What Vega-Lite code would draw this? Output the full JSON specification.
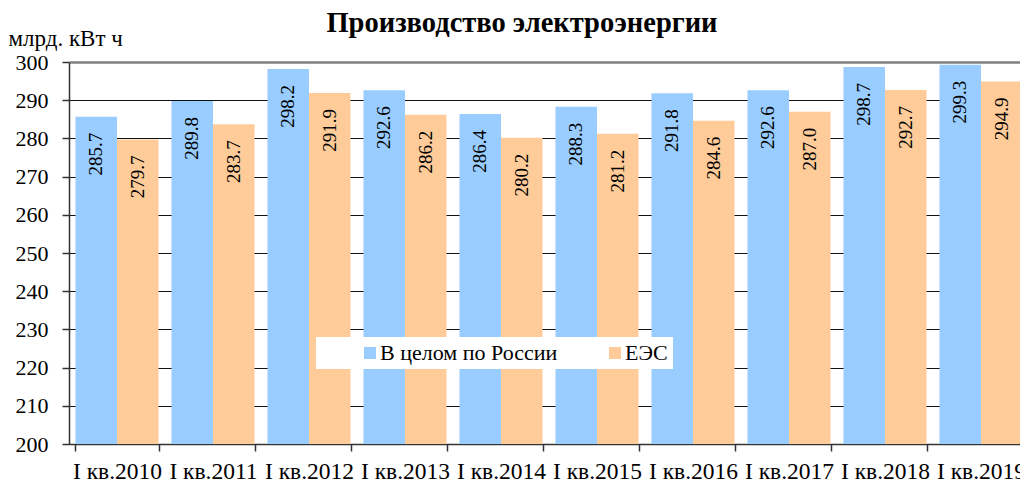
{
  "$schema": "https://vega.github.io/schema/vega-lite/v6.json",
  "width": 951,
  "height": 382,
  "autosize": {"type": "none"},
  "padding": {"left": 69, "top": 62, "right": 0, "bottom": 38},
  "background": "white",
  "title": {
    "text": "Производство электроэнергии",
    "font": "Liberation Serif, Times New Roman, serif",
    "fontSize": 28.5,
    "fontWeight": "bold",
    "color": "black",
    "anchor": "middle",
    "frame": "group",
    "dx": -22.5,
    "offset": -10
  },
  "data": {
    "values": [
      {"period": "I кв.2010", "series": "В целом по России", "value": 285.7},
      {"period": "I кв.2010", "series": "ЕЭС", "value": 279.7},
      {"period": "I кв.2011", "series": "В целом по России", "value": 289.8},
      {"period": "I кв.2011", "series": "ЕЭС", "value": 283.7},
      {"period": "I кв.2012", "series": "В целом по России", "value": 298.2},
      {"period": "I кв.2012", "series": "ЕЭС", "value": 291.9},
      {"period": "I кв.2013", "series": "В целом по России", "value": 292.6},
      {"period": "I кв.2013", "series": "ЕЭС", "value": 286.2},
      {"period": "I кв.2014", "series": "В целом по России", "value": 286.4},
      {"period": "I кв.2014", "series": "ЕЭС", "value": 280.2},
      {"period": "I кв.2015", "series": "В целом по России", "value": 288.3},
      {"period": "I кв.2015", "series": "ЕЭС", "value": 281.2},
      {"period": "I кв.2016", "series": "В целом по России", "value": 291.8},
      {"period": "I кв.2016", "series": "ЕЭС", "value": 284.6},
      {"period": "I кв.2017", "series": "В целом по России", "value": 292.6},
      {"period": "I кв.2017", "series": "ЕЭС", "value": 287.0},
      {"period": "I кв.2018", "series": "В целом по России", "value": 298.7},
      {"period": "I кв.2018", "series": "ЕЭС", "value": 292.7},
      {"period": "I кв.2019", "series": "В целом по России", "value": 299.3},
      {"period": "I кв.2019", "series": "ЕЭС", "value": 294.9}
    ]
  },
  "encoding": {
    "x": {
      "field": "period",
      "type": "nominal",
      "sort": null,
      "scale": {"range": [0, 960], "paddingInner": 0.135, "paddingOuter": 0.0675},
      "axis": {
        "title": null,
        "labelAngle": 0,
        "labelFont": "Liberation Serif, Times New Roman, serif",
        "labelFontSize": 23.5,
        "labelColor": "black",
        "labelOverlap": false,
        "labelLimit": 200,
        "labelPadding": 8,
        "tickBand": "extent",
        "tickSize": 7,
        "tickColor": "#333333",
        "tickWidth": 1.5,
        "domainColor": "#333333",
        "domainWidth": 1.5
      }
    },
    "xOffset": {
      "field": "series",
      "type": "nominal",
      "sort": ["В целом по России", "ЕЭС"],
      "scale": {"paddingInner": 0, "paddingOuter": 0}
    },
    "y": {
      "field": "value",
      "type": "quantitative",
      "scale": {"domain": [200, 300], "nice": false, "zero": false},
      "axis": {
        "title": "млрд. кВт ч",
        "titleAngle": 0,
        "titleAlign": "left",
        "titleBaseline": "alphabetic",
        "titleX": -61,
        "titleY": -17,
        "titleFont": "Liberation Serif, Times New Roman, serif",
        "titleFontSize": 23,
        "titleFontWeight": "normal",
        "titleColor": "black",
        "values": [200, 210, 220, 230, 240, 250, 260, 270, 280, 290, 300],
        "labelFont": "Liberation Serif, Times New Roman, serif",
        "labelFontSize": 22,
        "labelColor": "black",
        "labelPadding": 14,
        "tickSize": 7,
        "tickColor": "#333333",
        "tickWidth": 1.5,
        "domainColor": "#333333",
        "domainWidth": 1.5,
        "grid": true,
        "gridColor": {"condition": {"test": "datum.value === 300", "value": "#808080"}, "value": "#111111"},
        "gridWidth": {"condition": {"test": "datum.value === 300", "value": 2.5}, "value": 1},
        "gridOpacity": 1
      }
    }
  },
  "layer": [
    {
      "mark": {"type": "bar"},
      "encoding": {
        "y2": {"datum": 200},
        "color": {
          "field": "series",
          "type": "nominal",
          "scale": {"domain": ["В целом по России", "ЕЭС"], "range": ["#99CCFF", "#FFCC99"]},
          "legend": {
            "title": null,
            "orient": "none",
            "legendX": 247,
            "legendY": 275,
            "direction": "horizontal",
            "fillColor": "white",
            "padding": 5,
            "symbolType": "square",
            "symbolSize": 144,
            "symbolStrokeWidth": 0,
            "symbolOpacity": 1,
            "symbolOffset": 38,
            "labelFont": "Liberation Serif, Times New Roman, serif",
            "labelFontSize": 22,
            "labelColor": "black",
            "labelOffset": -1,
            "columnPadding": 8,
            "labelLimit": 300
          }
        }
      }
    },
    {
      "mark": {
        "type": "text",
        "angle": 270,
        "align": "right",
        "baseline": "middle",
        "dx": -16,
        "font": "Liberation Serif, Times New Roman, serif",
        "fontSize": 19,
        "color": "black"
      },
      "encoding": {
        "text": {"field": "value", "type": "quantitative", "format": ".1f"}
      }
    }
  ],
  "config": {
    "view": {"stroke": null}
  }
}
